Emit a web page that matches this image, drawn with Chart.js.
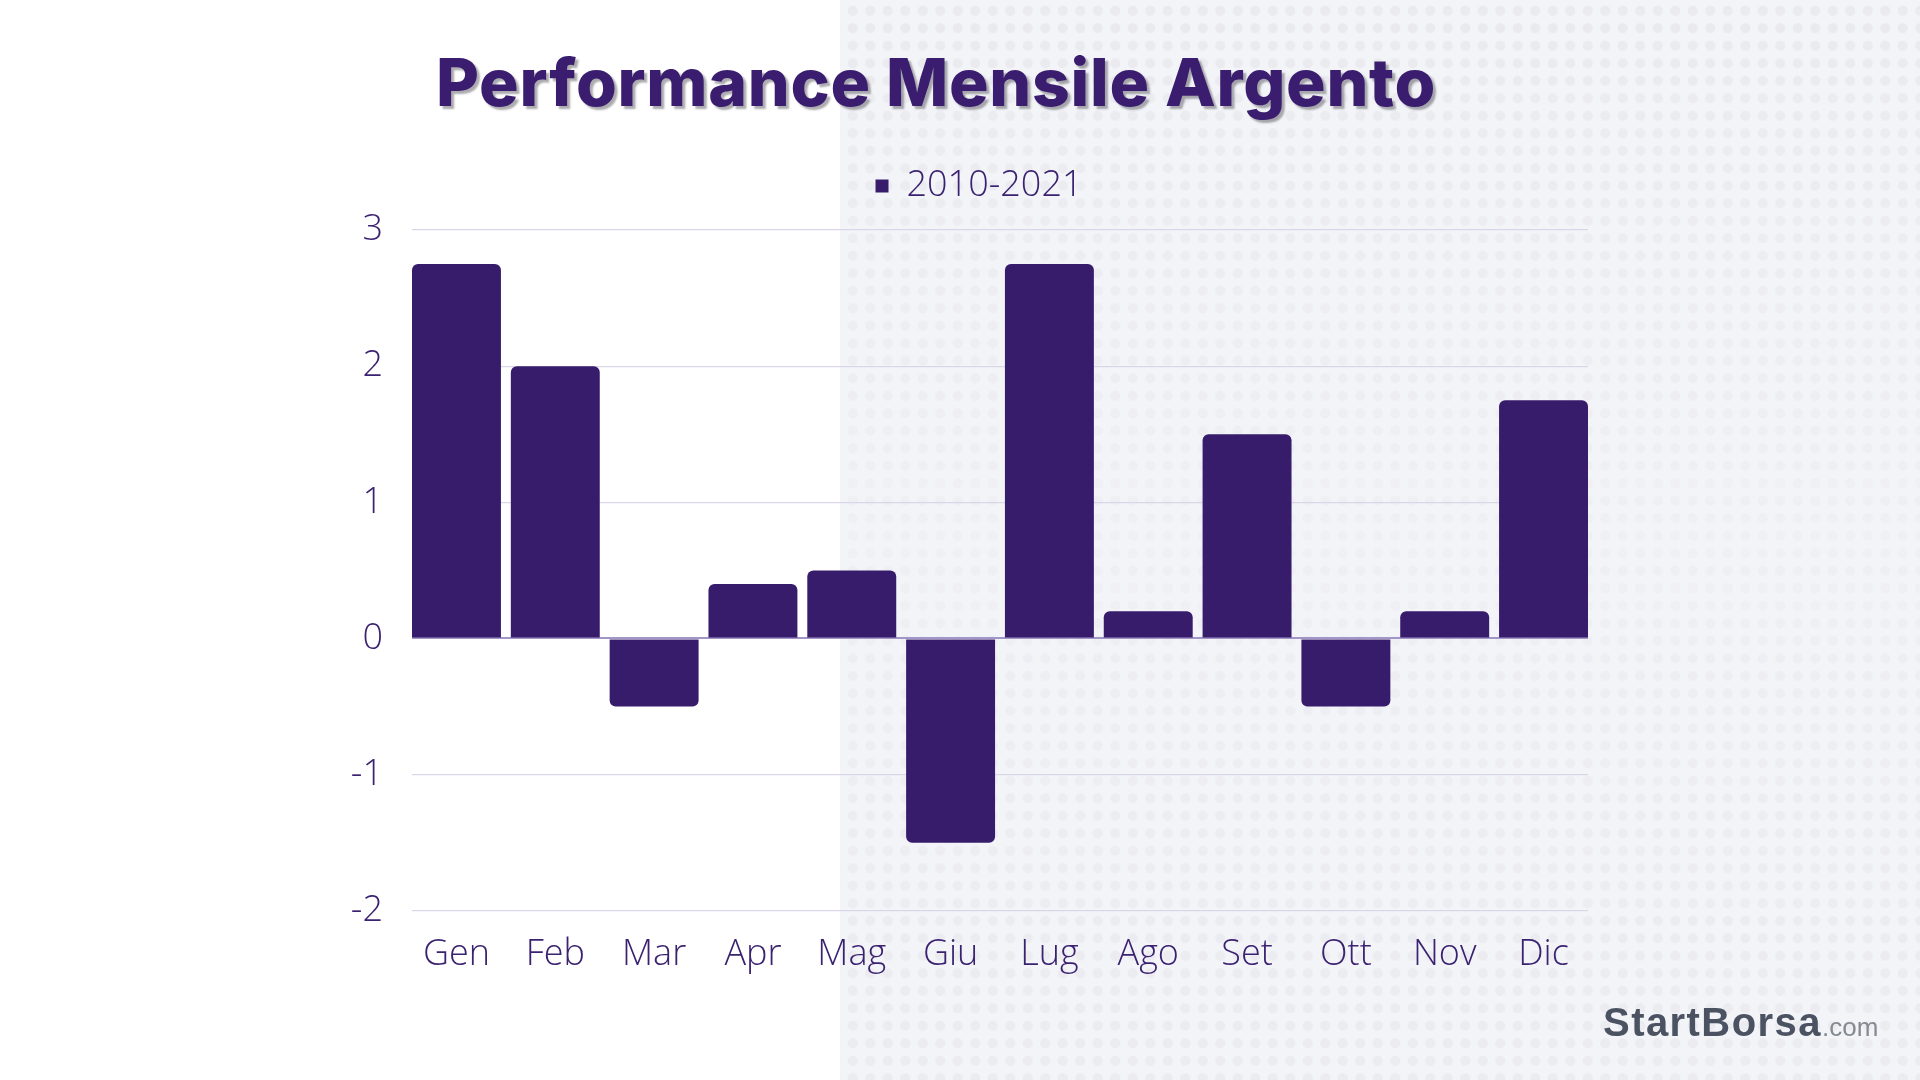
<!DOCTYPE html>
<html>
<head>
<meta charset="utf-8">
<script src="https://cdn.jsdelivr.net/npm/chart.js@4/dist/chart.umd.min.js"></script>
<style>
  html, body { margin: 0; padding: 0; }
  body { width: 1920px; height: 1080px; position: relative; overflow: hidden; background: #ffffff; }
  #panel { position: absolute; left: 840px; top: 0; width: 1080px; height: 1080px; background: #f3f4f8; }
  #dots {
    position: absolute; inset: 0;
    background-image: radial-gradient(circle, #e8e8ed 0, #e8e8ed 4.6px, rgba(232,232,237,0) 5.4px);
    background-size: 17.5px 17.5px;
    background-position: 4px 2px;
    -webkit-mask-image: linear-gradient(180deg, rgba(0,0,0,0.9) 0%, rgba(0,0,0,0.6) 25%, rgba(0,0,0,0.35) 50%, rgba(0,0,0,0.6) 75%, rgba(0,0,0,0.8) 100%);
    mask-image: linear-gradient(180deg, rgba(0,0,0,0.9) 0%, rgba(0,0,0,0.6) 25%, rgba(0,0,0,0.35) 50%, rgba(0,0,0,0.6) 75%, rgba(0,0,0,0.8) 100%);
  }
  #chart { position: absolute; left: 0; top: 0; }
  #title {
    position: absolute; left: 0; top: 49px; width: 1872px; text-align: center;
    font-family: Inter, "Noto Sans", sans-serif; font-weight: 800; font-size: 66px; line-height: 66px;
    color: #3a1d6e; text-shadow: 3px 3px 2px rgba(70,70,80,0.45); white-space: nowrap;
  }
  #wm { position: absolute; left: 1603px; top: 1002px; white-space: nowrap; line-height: 40px; }
  #wm .a { font-family: "Liberation Sans", Arial, sans-serif; font-weight: 700; font-size: 40px; color: #4b5262; }
  #wm .b { font-family: "Liberation Sans", Arial, sans-serif; font-weight: 400; font-size: 26px; color: #858991; }
</style>
</head>
<body>
<div id="panel"><div id="dots"></div></div>
<canvas id="chart" width="1920" height="1080"></canvas>
<div id="title"><span id="titleText">Performance Mensile Argento</span></div>
<div id="wm"><span class="a" id="wmA">StartBorsa</span><span class="b">.com</span></div>
<script>
const categories = ['Gen', 'Feb', 'Mar', 'Apr', 'Mag', 'Giu', 'Lug', 'Ago', 'Set', 'Ott', 'Nov', 'Dic'];
const seriesLabel = '2010-2021';
const values = [2.75, 2.0, -0.5, 0.4, 0.5, -1.5, 2.75, 0.2, 1.5, -0.5, 0.2, 1.75];
const yTicks = [-2, -1, 0, 1, 2, 3];

function fitWidth(el, target) {
  const w = el.getBoundingClientRect().width;
  const n = el.textContent.length;
  el.style.letterSpacing = ((target - w) / n) + 'px';
}

const TEXT = '#3b2271';
const BAR = '#381c6c';
const BAR_PCT = 0.9;
const tickFont = { family: 'Open Sans', weight: '300', size: 36 };

const legendSpacer = {
  id: 'legendSpacer',
  beforeLayout(chart) {
    const lg = chart.legend;
    if (lg && !lg._spaced) {
      const orig = lg.fit;
      lg.fit = function () { orig.call(this); this.height += 16; };
      lg._spaced = true;
    }
  },
  afterLayout(chart) {
    const lg = chart.legend;
    if (lg) { lg.left += 12; lg.right += 12; }
  }
};

function build() {
  fitWidth(document.getElementById('titleText'), 1000);
  fitWidth(document.getElementById('wmA'), 219);
  new Chart(document.getElementById('chart'), {
    type: 'bar',
    data: {
      labels: categories,
      datasets: [{
        label: seriesLabel,
        data: values,
        backgroundColor: BAR,
        borderWidth: 0,
        borderRadius: 6,
        borderSkipped: 'start',
        barPercentage: BAR_PCT,
        categoryPercentage: 1
      }]
    },
    options: {
      responsive: false,
      animation: false,
      devicePixelRatio: 1,
      layout: { padding: { left: 346, right: 332, top: 158, bottom: 82 } },
      plugins: {
        legend: {
          labels: { font: tickFont, color: TEXT, boxWidth: 13, boxHeight: 13, padding: 10 }
        },
        tooltip: { enabled: false }
      },
      scales: {
        x: {
          grid: { display: false, drawTicks: false },
          border: { display: false },
          ticks: { font: tickFont, color: TEXT, padding: 22, maxRotation: 0, autoSkip: false },
          afterBuildTicks(s) {
            const h = (1 - BAR_PCT) / 2;
            if (typeof s._startValue === 'number') {
              s._startValue += h;
              s._valueRange -= 2 * h;
            }
          }
        },
        y: {
          min: yTicks[0],
          max: yTicks[yTicks.length - 1],
          border: { display: false },
          grid: {
            drawTicks: false,
            color: (c) => (c.tick && c.tick.value === 0) ? '#a295c8' : '#dad6e7',
            lineWidth: (c) => (c.tick && c.tick.value === 0) ? 2 : 1.2
          },
          ticks: { stepSize: 1, font: tickFont, color: TEXT, padding: 29 },
          afterFit(s) { s.width = 66; }
        }
      }
    },
    plugins: [legendSpacer]
  });
}
if (document.fonts && document.fonts.load) {
  Promise.all([
    document.fonts.load('300 36px "Open Sans"'),
    document.fonts.load('800 66px Inter'),
    document.fonts.load('700 40px "Liberation Sans"')
  ]).then(build, build);
} else { build(); }
</script>
</body>
</html>
